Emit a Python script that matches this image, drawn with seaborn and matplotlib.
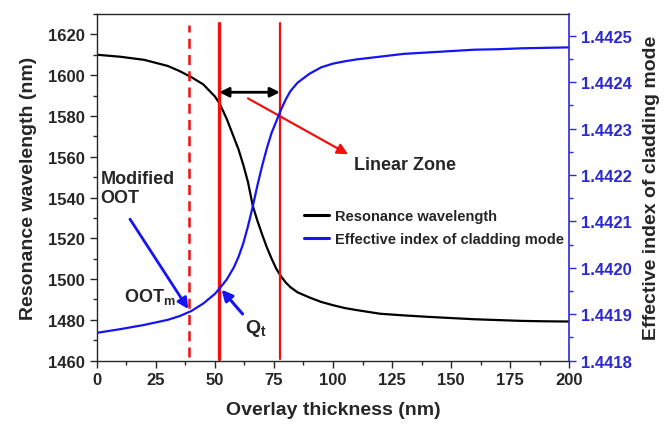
import matplotlib
matplotlib.use("Agg")
import matplotlib.pyplot as plt
from matplotlib.ticker import MultipleLocator, FormatStrFormatter
from matplotlib.lines import Line2D
import seaborn as sns
import pandas as pd

# overlay thickness (nm) where the curves were read
thickness = [0, 10, 20, 30, 35, 40, 45, 50, 52, 55, 58, 60, 62, 64, 66, 68, 70,
             72, 74, 76, 78, 80, 82, 85, 90, 95, 100, 105, 110, 120, 130, 140,
             150, 160, 170, 180, 190, 200]
# resonance wavelength (nm), left axis
wavelength = [1610, 1609, 1607.5, 1604.5, 1602, 1599, 1595.5, 1589.5, 1586,
              1578.5, 1569.5, 1563.5, 1556, 1547.5, 1536, 1528.5, 1521.8,
              1515.5, 1510, 1505, 1501.3, 1498.3, 1496, 1493.5, 1491, 1488.8,
              1487.2, 1485.8, 1484.8, 1483, 1482.2, 1481.5, 1480.9, 1480.3,
              1479.9, 1479.5, 1479.3, 1479.2]
# effective index of cladding mode, right axis
n_eff = [1.441860, 1.441868, 1.441877, 1.441888, 1.441896, 1.441907, 1.441923,
         1.441944, 1.441956, 1.441975, 1.442001, 1.442024, 1.442053, 1.442090,
         1.442132, 1.442178, 1.442220, 1.442258, 1.442291, 1.442316, 1.442341,
         1.442363, 1.442381, 1.442399, 1.442418, 1.442432, 1.442440, 1.442445,
         1.442449, 1.442455, 1.442461, 1.442464, 1.442467, 1.442470, 1.442471,
         1.442473, 1.442474, 1.442475]

oot_m = 39.1      # modified OOT (dashed line)
q_t = 51.8        # transition start
lin_end = 77.5    # end of linear zone

df = pd.DataFrame({'thickness': thickness, 'wavelength': wavelength, 'n_eff': n_eff})

sns.set_style("ticks")
plt.rcParams['font.family'] = ['Liberation Sans', 'DejaVu Sans']
plt.rcParams['font.weight'] = 'bold'
plt.rcParams['axes.labelweight'] = 'bold'
plt.rcParams['mathtext.fontset'] = 'custom'
plt.rcParams['mathtext.rm'] = 'Liberation Sans:bold'
plt.rcParams['mathtext.it'] = 'Liberation Sans:bold'

BLUE = '#1414f4'
RED = '#f01010'
AXBLUE = '#2a2ad0'

fig = plt.figure(figsize=(6.64, 4.27), dpi=100)
ax = fig.add_axes([0.146, 0.153, 0.711, 0.812])
ax2 = ax.twinx()

sns.lineplot(data=df, x='thickness', y='wavelength', ax=ax, color='black', lw=1.6)
sns.lineplot(data=df, x='thickness', y='n_eff', ax=ax2, color=BLUE, lw=1.6)

ax.set_xlim(0, 200)
ax.set_ylim(1460, 1630)
ax2.set_ylim(1.4418, 1.442547)

# vertical markers
ax.axvline(oot_m, ymin=0.011, ymax=0.968, color=RED, lw=1.8, dashes=(4, 2.5))
ax.axvline(q_t, ymin=0.005, ymax=0.974, color=RED, lw=2.4)
ax.axvline(lin_end, ymin=0.005, ymax=0.974, color=RED, lw=1.6)

# annotations
ax.annotate('', xy=(lin_end, 1591.6), xytext=(q_t, 1591.6),
            arrowprops=dict(arrowstyle='<|-|>', color='black', lw=2,
                            mutation_scale=14, shrinkA=0, shrinkB=0))
ax.annotate('', xy=(106.4, 1561.2), xytext=(64, 1588.6),
            arrowprops=dict(arrowstyle='-|>', color=RED, lw=1.6,
                            mutation_scale=16, shrinkA=0, shrinkB=0))
ax.text(108.7, 1556.3, 'Linear Zone', fontsize=13, fontweight='bold', va='center')

ax.annotate('', xy=(38.7, 1485.3), xytext=(14, 1529.4),
            arrowprops=dict(arrowstyle='-|>', color=BLUE, lw=2,
                            mutation_scale=16, shrinkA=0, shrinkB=0))
ax.text(1.6, 1544.6, 'Modified\nOOT', fontsize=13, fontweight='bold', va='center',
        linespacing=1.15)
ax.text(11.4, 1491.7, r'$\mathrm{OOT}_{\mathrm{m}}$', fontsize=13, va='center')

ax.annotate('', xy=(52.8, 1494.8), xytext=(61.7, 1482.9),
            arrowprops=dict(arrowstyle='-|>', color=BLUE, lw=2.2,
                            mutation_scale=16, shrinkA=0, shrinkB=0))
ax.text(62.7, 1476.5, r'$\mathrm{Q}_{\mathrm{t}}$', fontsize=14, va='center')

# ticks and spines
ax.xaxis.set_major_locator(MultipleLocator(25))
ax.xaxis.set_minor_locator(MultipleLocator(12.5))
ax.yaxis.set_major_locator(MultipleLocator(20))
ax.yaxis.set_minor_locator(MultipleLocator(10))
ax2.yaxis.set_major_locator(MultipleLocator(0.0001))
ax2.yaxis.set_minor_locator(MultipleLocator(0.00005))
ax2.yaxis.set_major_formatter(FormatStrFormatter('%.4f'))

ax.tick_params(which='major', direction='out', length=5, width=1, labelsize=12)
ax.tick_params(which='minor', direction='out', length=3, width=1)
ax.tick_params(axis='x', which='both', top=False)
ax2.tick_params(which='major', direction='out', length=5, width=1, labelsize=12,
                colors=AXBLUE)
ax2.tick_params(which='minor', direction='out', length=3, width=1, colors=AXBLUE)
for lab in ax.get_xticklabels() + ax.get_yticklabels() + ax2.get_yticklabels():
    lab.set_fontweight('bold')

ax.spines['right'].set_visible(False)
ax2.spines['right'].set_color(AXBLUE)
ax2.spines['right'].set_linewidth(1.2)
for s in ['left', 'top', 'bottom']:
    ax.spines[s].set_linewidth(1)
    ax2.spines[s].set_visible(False)

ax.set_xlabel('Overlay thickness (nm)', fontsize=14, fontweight='bold', labelpad=10)
ax.set_ylabel('Resonance wavelength (nm)', fontsize=14, fontweight='bold', labelpad=8)
ax2.set_ylabel('Effective index of cladding mode', fontsize=14, fontweight='bold',
               labelpad=8)

handles = [Line2D([], [], color='black', lw=2.2),
           Line2D([], [], color=BLUE, lw=2.2)]
ax.legend(handles, ['Resonance wavelength', 'Effective index of cladding mode'],
          loc='center left', bbox_to_anchor=(0.41, 0.383), frameon=False,
          handlelength=1.75, handletextpad=0.4, labelspacing=0.6,
          prop={'weight': 'bold', 'size': 10.5})
if ax2.get_legend() is not None:
    ax2.get_legend().remove()

fig.savefig('out.png', dpi=100)
